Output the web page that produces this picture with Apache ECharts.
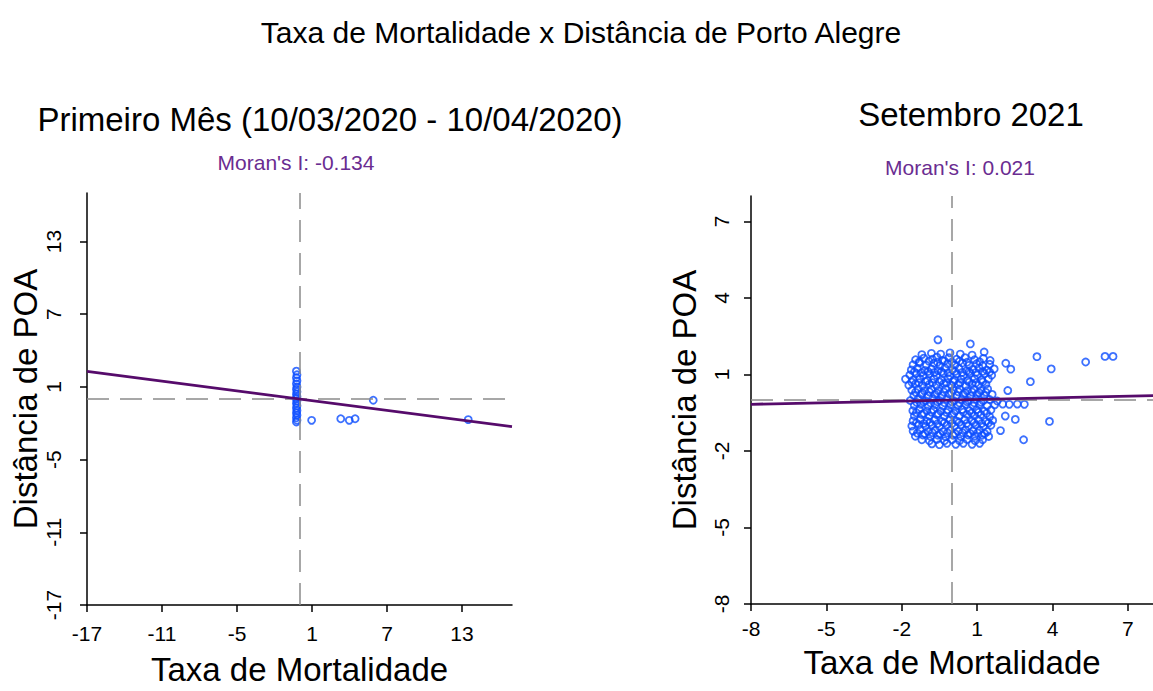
<!DOCTYPE html>
<html><head><meta charset="utf-8">
<script src="https://cdn.jsdelivr.net/npm/echarts@6/dist/echarts.min.js"></script>
<style>html,body{margin:0;padding:0;background:#fff}#c{width:1153px;height:691px}</style>
</head><body><div id="c"></div>
<script>
const mainTitle = 'Taxa de Mortalidade x Distância de Porto Alegre';
const panelTitles = ['Primeiro Mês (10/03/2020 - 10/04/2020)', 'Setembro 2021'];
const moranI = [-0.134, 0.021];
const xName = 'Taxa de Mortalidade';
const yName = 'Distância de POA';
const leftRange = [-17, 17];
const rightRange = [-8, 8];
const leftTicks = [-17, -11, -5, 1, 7, 13];
const rightTicks = [-8, -5, -2, 1, 4, 7];

const leftPoints = [
  [-0.25,2.3],[-0.2,2.0],[-0.25,1.75],[-0.2,1.5],[-0.25,1.25],[-0.2,1.0],[-0.25,0.8],[-0.2,0.6],
  [-0.25,0.4],[-0.2,0.2],[-0.25,0.05],[-0.2,-0.15],[-0.25,-0.35],[-0.2,-0.55],[-0.25,-0.75],
  [-0.2,-0.95],[-0.25,-1.15],[-0.2,-1.35],[-0.25,-1.55],[-0.2,-1.75],[-0.25,-1.9],
  [0.97,-1.76],[3.3,-1.63],[3.98,-1.76],[4.45,-1.63],[5.9,-0.1],[13.5,-1.7]
];

const rightPoints = [
  [-0.56,2.36],[0.73,2.2],[3.38,1.7],[3.95,1.22],[5.32,1.49],[6.09,1.71],[6.41,1.71],
  [-1.2,1.78],[-0.82,1.83],[-0.45,1.8],[-0.08,1.85],[0.33,1.8],[0.8,1.76],[1.28,1.88],
  [-1.45,1.58],[-1.12,1.64],[-0.78,1.6],[-0.6,1.68],[-0.38,1.55],[-0.12,1.66],[0.18,1.6],[0.52,1.66],[0.9,1.58],[1.25,1.63],[1.52,1.55],
  [-1.3,1.5],[-0.92,1.52],[-0.58,1.48],[-0.3,1.53],[0.0,1.49],[0.3,1.52],[0.6,1.48],[1.1,1.5],
  [-1.55,1.38],[-1.3,1.45],[-1.02,1.36],[-0.72,1.44],[-0.48,1.35],[-0.18,1.42],[0.12,1.37],[0.42,1.45],[0.68,1.36],[0.98,1.42],[1.22,1.34],[1.5,1.4],[2.14,1.44],
  [-1.62,1.18],[-1.38,1.24],[-1.08,1.16],[-0.82,1.22],[-0.55,1.15],[-0.28,1.25],[0.02,1.18],[0.28,1.23],[0.58,1.14],[0.82,1.2],[1.08,1.26],[1.38,1.17],[1.68,1.22],[2.34,1.21],
  [-1.5,1.1],[-1.22,1.07],[-0.95,1.12],[-0.7,1.08],[-0.42,1.11],[-0.15,1.07],[0.12,1.12],[0.4,1.08],[0.68,1.11],[0.95,1.08],[1.22,1.12],[1.5,1.1],
  [-1.68,0.98],[-1.42,1.04],[-1.15,0.96],[-0.9,1.03],[-0.62,0.97],[-0.35,1.05],[-0.08,0.95],[0.18,1.02],[0.45,0.96],[0.72,1.04],[1.0,0.98],[1.3,1.03],[1.58,0.97],
  [-1.85,0.82],[-1.55,0.78],[-1.28,0.84],[-0.98,0.76],[-0.72,0.83],[-0.42,0.77],[-0.15,0.84],[0.1,0.78],[0.36,0.82],[0.62,0.76],[0.9,0.84],[1.18,0.78],[1.45,0.82],[3.12,0.72],
  [-1.6,0.7],[-1.32,0.68],[-1.05,0.72],[-0.78,0.68],[-0.5,0.71],[-0.22,0.67],[0.05,0.72],[0.32,0.68],[0.68,0.7],[0.95,0.67],[1.22,0.71],
  [-1.72,0.58],[-1.45,0.63],[-1.18,0.56],[-0.9,0.62],[-0.62,0.57],[-0.32,0.64],[-0.02,0.58],[0.25,0.62],[0.55,0.56],[0.8,0.63],[1.06,0.58],[1.35,0.62],
  [-1.6,0.38],[-1.35,0.43],[-1.1,0.36],[-0.82,0.42],[-0.55,0.37],[-0.26,0.44],[0.05,0.38],[0.3,0.43],[0.6,0.36],[0.88,0.42],[1.15,0.37],[1.42,0.43],[2.22,0.37],
  [-1.45,0.3],[-1.18,0.28],[-0.9,0.32],[-0.6,0.27],[-0.32,0.31],[-0.02,0.28],[0.25,0.32],[0.52,0.27],[0.8,0.31],[1.08,0.28],[1.35,0.3],
  [-1.52,0.18],[-1.22,0.23],[-0.95,0.16],[-0.68,0.22],[-0.4,0.17],[-0.12,0.24],[0.18,0.18],[0.45,0.22],[0.74,0.16],[1.0,0.23],[1.28,0.18],[1.6,0.22],
  [-1.66,-0.02],[-1.36,0.03],[-1.06,-0.03],[-0.78,0.04],[-0.5,-0.02],[-0.22,0.03],[0.08,-0.03],[0.38,0.02],[0.66,-0.02],[0.95,0.04],[1.24,-0.03],[1.5,0.02],[1.8,-0.04],
  [-1.4,-0.1],[-1.12,-0.08],[-0.85,-0.12],[-0.58,-0.07],[-0.3,-0.11],[0.0,-0.08],[0.3,-0.12],[0.6,-0.07],[0.88,-0.11],[1.15,-0.09],
  [2.02,-0.16],[2.28,-0.17],[2.6,-0.16],[2.88,-0.17],
  [-1.5,-0.22],[-1.24,-0.17],[-0.95,-0.23],[-0.66,-0.18],[-0.36,-0.24],[-0.06,-0.19],[0.24,-0.23],[0.54,-0.17],[0.84,-0.24],[1.1,-0.18],[1.4,-0.23],[1.7,-0.19],
  [-1.56,-0.42],[-1.3,-0.37],[-1.0,-0.43],[-0.74,-0.38],[-0.45,-0.44],[-0.16,-0.38],[0.14,-0.43],[0.4,-0.37],[0.7,-0.42],[0.98,-0.38],[1.28,-0.44],[1.55,-0.39],
  [-1.42,-0.5],[-1.12,-0.52],[-0.82,-0.48],[-0.55,-0.53],[-0.22,-0.49],[0.08,-0.52],[0.45,-0.48],[0.78,-0.51],[1.05,-0.49],[1.38,-0.52],
  [-1.5,-0.62],[-1.2,-0.57],[-0.9,-0.63],[-0.6,-0.58],[-0.3,-0.64],[0.0,-0.58],[0.3,-0.63],[0.6,-0.57],[0.9,-0.62],[1.15,-0.58],[1.5,-0.66],[2.12,-0.63],
  [-1.55,-0.82],[-1.26,-0.77],[-1.0,-0.83],[-0.7,-0.78],[-0.4,-0.84],[-0.1,-0.78],[0.2,-0.83],[0.5,-0.77],[0.8,-0.82],[1.05,-0.78],[1.35,-0.84],[1.62,-0.8],[2.52,-0.76],[3.88,-0.84],
  [-1.42,-0.9],[-1.12,-0.92],[-0.88,-0.88],[-0.58,-0.93],[-0.3,-0.89],[0.0,-0.92],[0.28,-0.88],[0.58,-0.92],[0.88,-0.89],[1.18,-0.92],[1.45,-0.9],
  [-1.6,-1.02],[-1.32,-0.97],[-1.05,-1.03],[-0.8,-0.98],[-0.5,-1.04],[-0.2,-0.98],[0.1,-1.03],[0.36,-0.97],[0.65,-1.02],[0.95,-0.98],[1.25,-1.04],[1.55,-0.99],
  [-1.55,-1.22],[-1.26,-1.17],[-0.96,-1.23],[-0.66,-1.18],[-0.36,-1.24],[-0.06,-1.18],[0.24,-1.23],[0.54,-1.17],[0.84,-1.22],[1.1,-1.18],[1.4,-1.24],[1.93,-1.2],
  [-1.38,-1.3],[-1.08,-1.32],[-0.78,-1.28],[-0.48,-1.33],[-0.18,-1.29],[0.12,-1.32],[0.42,-1.28],[0.72,-1.31],[1.02,-1.29],[1.3,-1.32],
  [-1.46,-1.42],[-1.16,-1.37],[-0.86,-1.43],[-0.56,-1.38],[-0.26,-1.44],[0.04,-1.38],[0.34,-1.43],[0.64,-1.37],[0.9,-1.42],[1.2,-1.38],[1.46,-1.43],
  [-1.2,-1.56],[-0.9,-1.6],[-0.6,-1.55],[-0.3,-1.6],[0.0,-1.56],[0.3,-1.6],[0.6,-1.55],[0.92,-1.6],[1.22,-1.56],[2.85,-1.56],
  [-0.8,-1.72],[-0.5,-1.75],[-0.2,-1.7],[0.15,-1.74],[0.45,-1.7],[0.8,-1.74],[1.1,-1.7]
];

const FONT = 'Liberation Sans, Arial, sans-serif';
const BLUE = '#0d4dff';
const PURPLE_LINE = '#560b6b';
const PURPLE_TEXT = '#6a2c91';
const GRAY = '#8a8a8a';

function fitLine(slope, range) {
  return [[range[0], slope * range[0]], [range[1], slope * range[1]]];
}

function xAxisCfg(idx, range, ticks, gap, margin) {
  return {
    type: 'value', gridIndex: idx, min: range[0], max: range[1],
    name: xName, nameLocation: 'middle', nameGap: gap,
    nameTextStyle: {fontSize: 33, color: '#000', fontFamily: FONT},
    splitLine: {show: false},
    axisLine: {show: true, onZero: false, lineStyle: {color: '#000', width: 1.5}},
    axisTick: {show: true, length: 7, customValues: ticks, lineStyle: {color: '#000', width: 1.5}},
    axisLabel: {customValues: ticks, margin: margin, fontSize: 21, color: '#000', fontFamily: FONT}
  };
}
function yAxisCfg(idx, range, ticks, gap, margin) {
  return {
    type: 'value', gridIndex: idx, min: range[0], max: range[1],
    name: yName, nameLocation: 'middle', nameGap: gap,
    nameTextStyle: {fontSize: 33, color: '#000', fontFamily: FONT},
    splitLine: {show: false},
    axisLine: {show: true, onZero: false, lineStyle: {color: '#000', width: 1.5}},
    axisTick: {show: true, length: 7, customValues: ticks, lineStyle: {color: '#000', width: 1.5}},
    axisLabel: {customValues: ticks, rotate: 90, margin: margin, fontSize: 21, color: '#000', fontFamily: FONT}
  };
}

function scatterSeries(idx, data) {
  return {
    type: 'scatter', xAxisIndex: idx, yAxisIndex: idx, data: data,
    symbol: 'circle', symbolSize: 7,
    itemStyle: {color: 'rgba(0,0,0,0)', borderColor: BLUE, borderWidth: 1.8},
    z: 2,
    markLine: {
      silent: true, symbol: ['none', 'none'], label: {show: false},
      lineStyle: {type: [22, 11], color: GRAY, width: 1.5},
      data: [{xAxis: 0}, {yAxis: 0}]
    }
  };
}
function lineSeries(idx, slope, range) {
  return {
    type: 'line', xAxisIndex: idx, yAxisIndex: idx, data: fitLine(slope, range),
    showSymbol: false, symbol: 'none', z: 5,
    lineStyle: {color: PURPLE_LINE, width: 2.8}
  };
}

const chart = echarts.init(document.getElementById('c'), null, {renderer: 'svg'});
chart.setOption({
  animation: false,
  backgroundColor: '#fff',
  title: [
    {text: mainTitle, left: 576, top: 12, textAlign: 'center',
     textStyle: {fontSize: 30, fontWeight: 'normal', color: '#000', fontFamily: FONT}},
    {text: panelTitles[0], left: 325, top: 98, textAlign: 'center',
     textStyle: {fontSize: 33, fontWeight: 'normal', color: '#000', fontFamily: FONT}},
    {text: panelTitles[1], left: 966, top: 93, textAlign: 'center',
     textStyle: {fontSize: 33, fontWeight: 'normal', color: '#000', fontFamily: FONT}},
    {text: "Moran's I: " + moranI[0].toFixed(3), left: 291, top: 147, textAlign: 'center',
     textStyle: {fontSize: 21, fontWeight: 'normal', color: PURPLE_TEXT, fontFamily: FONT}},
    {text: "Moran's I: " + moranI[1].toFixed(3), left: 955, top: 152, textAlign: 'center',
     textStyle: {fontSize: 21, fontWeight: 'normal', color: PURPLE_TEXT, fontFamily: FONT}}
  ],
  grid: [
    {left: 87, top: 193, width: 425, height: 420},
    {left: 751, top: 196, width: 406, height: 408}
  ],
  xAxis: [
    xAxisCfg(0, leftRange, leftTicks, 48, 18),
    xAxisCfg(1, rightRange, rightTicks, 42, 14)
  ],
  yAxis: [
    yAxisCfg(0, leftRange, leftTicks, 43, 23),
    yAxisCfg(1, rightRange, rightTicks, 50, 19)
  ],
  series: [
    scatterSeries(0, leftPoints),
    lineSeries(0, moranI[0], leftRange),
    scatterSeries(1, rightPoints),
    lineSeries(1, moranI[1], rightRange)
  ]
});
</script></body></html>
